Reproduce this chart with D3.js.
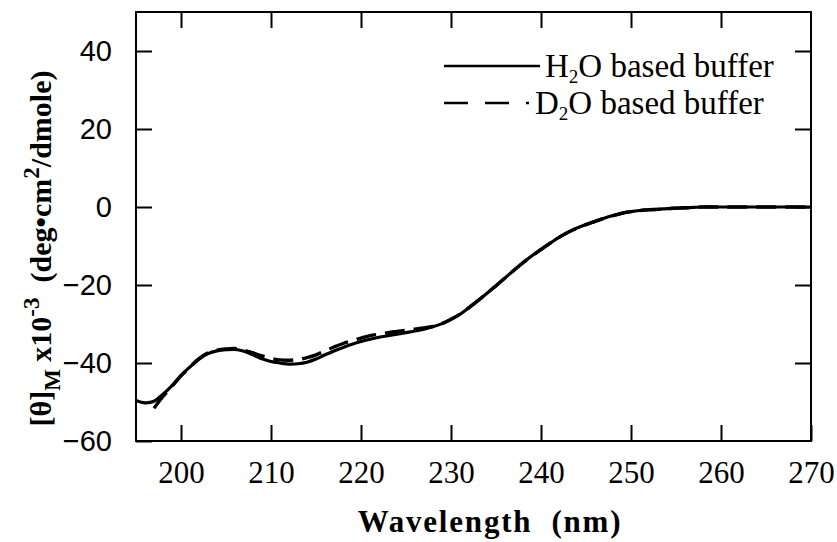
<!DOCTYPE html>
<html>
<head>
<meta charset="utf-8">
<script src="https://cdn.jsdelivr.net/npm/d3@7"></script>
<style>
  body { margin: 0; background: #fff; }
  svg { display: block; }
</style>
</head>
<body>
<svg id="chart" width="837" height="542"></svg>
<script>
// CD spectrum, H2O buffer (nm)
const wavelengthH2O = [195,196,197,198,199,200,201,202,203,204,205,206,207,208,209,210,211,212,213,214,215,216,217,218,219,220,221,222,223,224,225,226,227,228,229,230,231,232,233,234,235,236,237,238,239,240,241,242,243,244,245,246,247,248,249,250,251,252,253,254,255,256,257,258,260,262,264,266,268,270];
const thetaH2O = [-49.6,-50.2,-49.8,-48.0,-45.8,-43.2,-41.0,-39.0,-37.6,-36.9,-36.6,-36.5,-37.0,-37.9,-38.9,-39.6,-40.0,-40.3,-40.2,-39.8,-39.0,-37.9,-36.9,-36.0,-35.2,-34.5,-33.9,-33.4,-33.0,-32.6,-32.2,-31.8,-31.3,-30.7,-29.9,-28.8,-27.5,-25.8,-24.0,-22.1,-20.2,-18.2,-16.2,-14.3,-12.5,-10.9,-9.3,-7.8,-6.5,-5.4,-4.5,-3.7,-2.9,-2.2,-1.6,-1.2,-0.9,-0.7,-0.6,-0.4,-0.3,-0.2,-0.1,0,0,0,0,0,0,0];

// CD spectrum, D2O buffer (nm)
const wavelengthD2O = [197,198,199,200,201,202,203,204,205,206,207,208,209,210,211,212,213,214,215,216,217,218,219,220,221,222,223,224,225,226,227,228,229,230,231,232,233,234,235,236,237,238,239,240,241,242,243,244,245,246,247,248,249,250,251,252,253,254,255,256,257,258,260,262,264,266,268,270];
const thetaD2O = [-51.6,-48.6,-46.0,-43.3,-41.0,-38.9,-37.4,-36.7,-36.4,-36.3,-36.7,-37.4,-38.2,-38.8,-39.2,-39.3,-39.1,-38.6,-37.9,-36.9,-35.9,-35.0,-34.3,-33.6,-33.0,-32.6,-32.2,-31.9,-31.6,-31.3,-31.0,-30.6,-29.9,-28.8,-27.5,-25.8,-24.0,-22.1,-20.2,-18.2,-16.2,-14.3,-12.5,-10.9,-9.3,-7.8,-6.5,-5.4,-4.5,-3.7,-2.9,-2.2,-1.6,-1.2,-0.9,-0.7,-0.6,-0.4,-0.3,-0.2,-0.1,0,0,0,0,0,0,0];

const xTicks = [200,210,220,230,240,250,260,270];
const yTicks = [-60,-40,-20,0,20,40];

const svg = d3.select("#chart");
const plotLeft = 136, plotRight = 811, plotTop = 12, plotBottom = 441;

const x = d3.scaleLinear().domain([195, 270]).range([plotLeft, plotRight]);
const y = d3.scaleLinear().domain([-60, 50]).range([plotBottom, plotTop]);

const tickLen = 16;
const serif = "'Liberation Serif', 'Times New Roman', serif";

// Frame
svg.append("rect")
  .attr("x", plotLeft).attr("y", plotTop)
  .attr("width", plotRight - plotLeft).attr("height", plotBottom - plotTop)
  .attr("fill", "none").attr("stroke", "#000").attr("stroke-width", 2);

function styleAxis(g) {
  g.select(".domain").remove();
  g.selectAll(".tick line").attr("stroke", "#000").attr("stroke-width", 2);
}

// Bottom axis with labels
svg.append("g")
  .attr("transform", `translate(0,${plotBottom})`)
  .call(d3.axisBottom(x).tickValues(xTicks).tickSizeInner(-tickLen).tickSizeOuter(0).tickPadding(20).tickFormat(d3.format("d")))
  .call(styleAxis)
  .call(g => g.selectAll(".tick text")
    .attr("fill", "#000")
    .style("font-family", serif)
    .style("font-size", "31px"));

// Top axis, ticks only
svg.append("g")
  .attr("transform", `translate(0,${plotTop})`)
  .call(d3.axisTop(x).tickValues(xTicks.filter(v => v < 270)).tickSizeInner(-tickLen).tickSizeOuter(0).tickFormat(""))
  .call(styleAxis);

// Left axis with labels
svg.append("g")
  .attr("transform", `translate(${plotLeft},0)`)
  .call(d3.axisLeft(y).tickValues(yTicks).tickSizeInner(-tickLen).tickSizeOuter(0).tickPadding(24).tickFormat(d3.format("d")))
  .call(styleAxis)
  .call(g => g.selectAll(".tick text")
    .attr("fill", "#000")
    .style("font-family", "'Liberation Sans', Arial, sans-serif")
    .style("font-size", "29px"));

// Right axis, ticks only
svg.append("g")
  .attr("transform", `translate(${plotRight},0)`)
  .call(d3.axisRight(y).tickValues(yTicks.filter(v => v > -60)).tickSizeInner(-tickLen).tickSizeOuter(0).tickFormat(""))
  .call(styleAxis);

// Spectra
const line = d3.line()
  .x(d => x(d[0]))
  .y(d => y(d[1]))
  .curve(d3.curveCatmullRom.alpha(0.5));

const h2o = wavelengthH2O.map((w, i) => [w, thetaH2O[i]]);
const d2o = wavelengthD2O.map((w, i) => [w, thetaD2O[i]]);

svg.append("path")
  .datum(d2o)
  .attr("d", line)
  .attr("fill", "none")
  .attr("stroke", "#000")
  .attr("stroke-width", 3.4)
  .attr("stroke-dasharray", "20,9");

svg.append("path")
  .datum(h2o)
  .attr("d", line)
  .attr("fill", "none")
  .attr("stroke", "#000")
  .attr("stroke-width", 3.2);

// Axis titles
svg.append("text")
  .attr("x", 490)
  .attr("y", 532)
  .attr("text-anchor", "middle")
  .style("font-family", serif)
  .style("font-weight", "bold")
  .style("font-size", "31px")
  .style("letter-spacing", "1.8px")
  .style("white-space", "pre")
  .text("Wavelength  (nm)");

const yTitle = svg.append("text")
  .attr("transform", `translate(51,${(plotTop + plotBottom) / 2 + 22}) rotate(-90)`)
  .attr("text-anchor", "middle")
  .style("font-family", serif)
  .style("font-weight", "bold")
  .style("font-size", "30px")
  .style("white-space", "pre");
yTitle.append("tspan").text("[θ]");
yTitle.append("tspan").attr("dy", 9).style("font-size", "23px").text("M");
yTitle.append("tspan").attr("dy", -9).text(" x10");
yTitle.append("tspan").attr("dy", -12).style("font-size", "23px").text("-3");
yTitle.append("tspan").attr("dy", 12).text("  (deg•cm");
yTitle.append("tspan").attr("dy", -12).style("font-size", "23px").text("2");
yTitle.append("tspan").attr("dy", 12).text("/dmole)");

// Legend
const legend = [
  { label: "H", sub: "2", rest: "O based buffer", dash: null, y: 66, tx: 545, ty: 77 },
  { label: "D", sub: "2", rest: "O based buffer", dash: "24,17", y: 103, tx: 535, ty: 114 }
];
legend.forEach(item => {
  svg.append("line")
    .attr("x1", 444).attr("x2", item.dash ? 529 : 540)
    .attr("y1", item.y).attr("y2", item.y)
    .attr("stroke", "#000").attr("stroke-width", 2.5)
    .attr("stroke-dasharray", item.dash);
  const t = svg.append("text")
    .attr("x", item.tx).attr("y", item.ty)
    .style("font-family", serif)
    .style("font-size", "33px");
  t.append("tspan").text(item.label);
  t.append("tspan").attr("dy", 6).style("font-size", "19px").text(item.sub);
  t.append("tspan").attr("dy", -6).text(item.rest);
});
</script>
</body>
</html>
